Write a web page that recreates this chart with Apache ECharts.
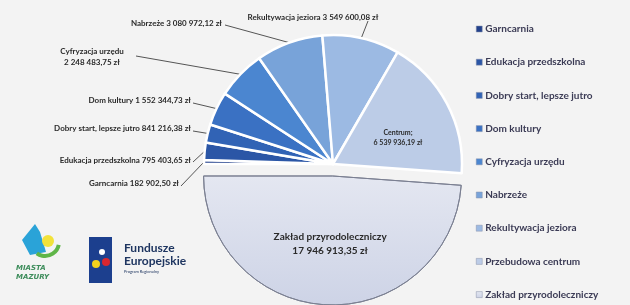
<!DOCTYPE html>
<html>
<head>
    <meta charset="utf-8">
    <script src="https://cdn.jsdelivr.net/npm/echarts@6/dist/echarts.min.js"></script>
</head>
<body style="margin:0;background:#f3f3f3;">
<div id="main" style="width: 630px;height:305px;"></div>

<script type="text/javascript">
    // dane: nazwy do legendy, kwoty i teksty etykiet
    var names = ['Garncarnia', 'Edukacja przedszkolna', 'Dobry start, lepsze jutro', 'Dom kultury',
        'Cyfryzacja urzędu', 'Nabrzeże', 'Rekultywacja jeziora', 'Przebudowa centrum', 'Zakład przyrodoleczniczy'];
    var values = [182902.50, 795403.65, 841216.38, 1552344.73, 2248483.75, 3080972.12, 3549600.08, 6539936.19, 17946913.35];
    var labelTexts = ['Garncarnia 182 902,50 zł', 'Edukacja przedszkolna 795 403,65 zł',
        'Dobry start, lepsze jutro 841 216,38 zł', 'Dom kultury 1 552 344,73 zł',
        'Cyfryzacja urzędu\n2 248 483,75 zł', 'Nabrzeże 3 080 972,12 zł',
        'Rekultywacja jeziora 3 549 600,08 zł', 'Centrum;\n6 539 936,19 zł',
        'Zakład przyrodoleczniczy\n17 946 913,35 zł'];
    var colors = ['#22418c', '#2b56a6', '#3163b5', '#3a71c3', '#4b86d0', '#78a3d9', '#9cbae3', '#bccce7', '#dadfee'];

    // gdzie stoją etykiety (x, y, wyrównanie) i gdzie kończy się linia przy tekście
    var labelPos = [
        [179, 183, 'right'], [191, 160, 'right'], [191, 128, 'right'], [191, 100, 'right'],
        [92, 57, 'center'], [222, 23, 'right'], [313, 17, 'center'], [398, 138, 'center'], [332, 229, 'center']
    ];
    var lineEnds = [[181, 186], [193, 162], [193, 131], [193, 103], [136, 56], [225, 25], [368, 21]];

    var myChart = echarts.init(document.getElementById('main'));

    var seriesData = [];
    for (var i = 0; i < names.length; i++) {
        var inside = i >= 7;
        var item = {
            name: names[i],
            value: values[i],
            itemStyle: {color: colors[i]},
            label: inside ? {
                position: 'inside',
                fontSize: i === 8 ? 10 : 7,
                lineHeight: i === 8 ? 14 : 10
            } : {position: 'outside'},
            labelLine: {show: !inside}
        };
        if (i === 8) {
            item.selected = true;
            item.itemStyle = {
                color: new echarts.graphic.LinearGradient(0, 0, 0, 1, [
                    {offset: 0, color: '#e4e7f1'}, {offset: 1, color: '#cdd3e6'}
                ]),
                borderColor: '#7b8092',
                borderWidth: 1
            };
        }
        seriesData.push(item);
    }

    var option = {
        backgroundColor: '#f3f3f3',
        legend: {
            orient: 'vertical',
            left: 476,
            top: 24,
            height: 290,
            padding: 0,
            itemWidth: 6,
            itemHeight: 6,
            itemGap: 23.2,
            icon: 'rect',
            data: names,
            textStyle: {
                fontFamily: 'Lato',
                fontWeight: 'bold',
                fontSize: 10,
                color: '#3b3b55',
                padding: [0, 0, 0, -2]
            },
            itemStyle: {borderColor: '#8890a8', borderWidth: 0.5}
        },
        graphic: [
            // logo Miasta Mazury
            {type: 'polygon', shape: {points: [[22, 240], [35, 224], [40, 232], [46, 252], [30, 255]]}, style: {fill: '#2aa3d8'}},
            {type: 'circle', shape: {cx: 48, cy: 241, r: 6}, style: {fill: '#f2e23a'}},
            {type: 'arc', shape: {cx: 45, cy: 242, r: 14, startAngle: 0.2, endAngle: 2.2}, style: {stroke: '#5fb548', lineWidth: 4, fill: null}},
            {type: 'text', left: 16, top: 264, style: {text: 'MIASTA\nMAZURY', font: 'italic bold 7px "DejaVu Sans"', fill: '#3c8c5a', lineHeight: 9}},
            // logo Fundusze Europejskie
            {type: 'rect', shape: {x: 89, y: 237, width: 23, height: 46}, style: {fill: '#1c3f8e'}},
            {type: 'circle', shape: {cx: 96, cy: 264, r: 4}, style: {fill: '#f3d21c'}},
            {type: 'circle', shape: {cx: 106, cy: 262, r: 4}, style: {fill: '#d9262f'}},
            {type: 'circle', shape: {cx: 102, cy: 252, r: 3}, style: {fill: '#ffffff'}},
            {type: 'text', left: 124, top: 242, style: {text: 'Fundusze\nEuropejskie', font: 'bold 12px Lato', fill: '#1e3560', lineHeight: 13}},
            {type: 'text', left: 124, top: 270, style: {text: 'Program Regionalny', font: '4px Lato', fill: '#1e3560'}}
        ],
        series: [
            {
                name: 'inwestycje',
                type: 'pie',
                center: [333, 164],
                radius: [0, 129],
                startAngle: 180,
                clockwise: true,
                selectedMode: 'single',
                selectedOffset: 12,
                avoidLabelOverlap: false,
                data: seriesData,
                itemStyle: {
                    borderColor: '#ffffff',
                    borderWidth: 2.5
                },
                label: {
                    formatter: function (p) { return labelTexts[p.dataIndex]; },
                    fontFamily: 'Lato',
                    fontWeight: 'bold',
                    fontSize: 8,
                    lineHeight: 11,
                    color: '#2a2a2a'
                },
                labelLine: {
                    lineStyle: {color: '#555555', width: 1}
                },
                labelLayout: function (params) {
                    var i = params.dataIndex;
                    var p = labelPos[i];
                    var res = {x: p[0], y: p[1], align: p[2], verticalAlign: 'middle'};
                    if (i < 7 && params.labelLinePoints) {
                        var a = params.labelLinePoints[0];
                        var e = lineEnds[i];
                        res.labelLinePoints = [[a[0], a[1]], [e[0], e[1]], [e[0], e[1]]];
                    }
                    return res;
                },
                emphasis: {disabled: true}
            }
        ]
    };

    myChart.setOption(option);
</script>
</body>
</html>
